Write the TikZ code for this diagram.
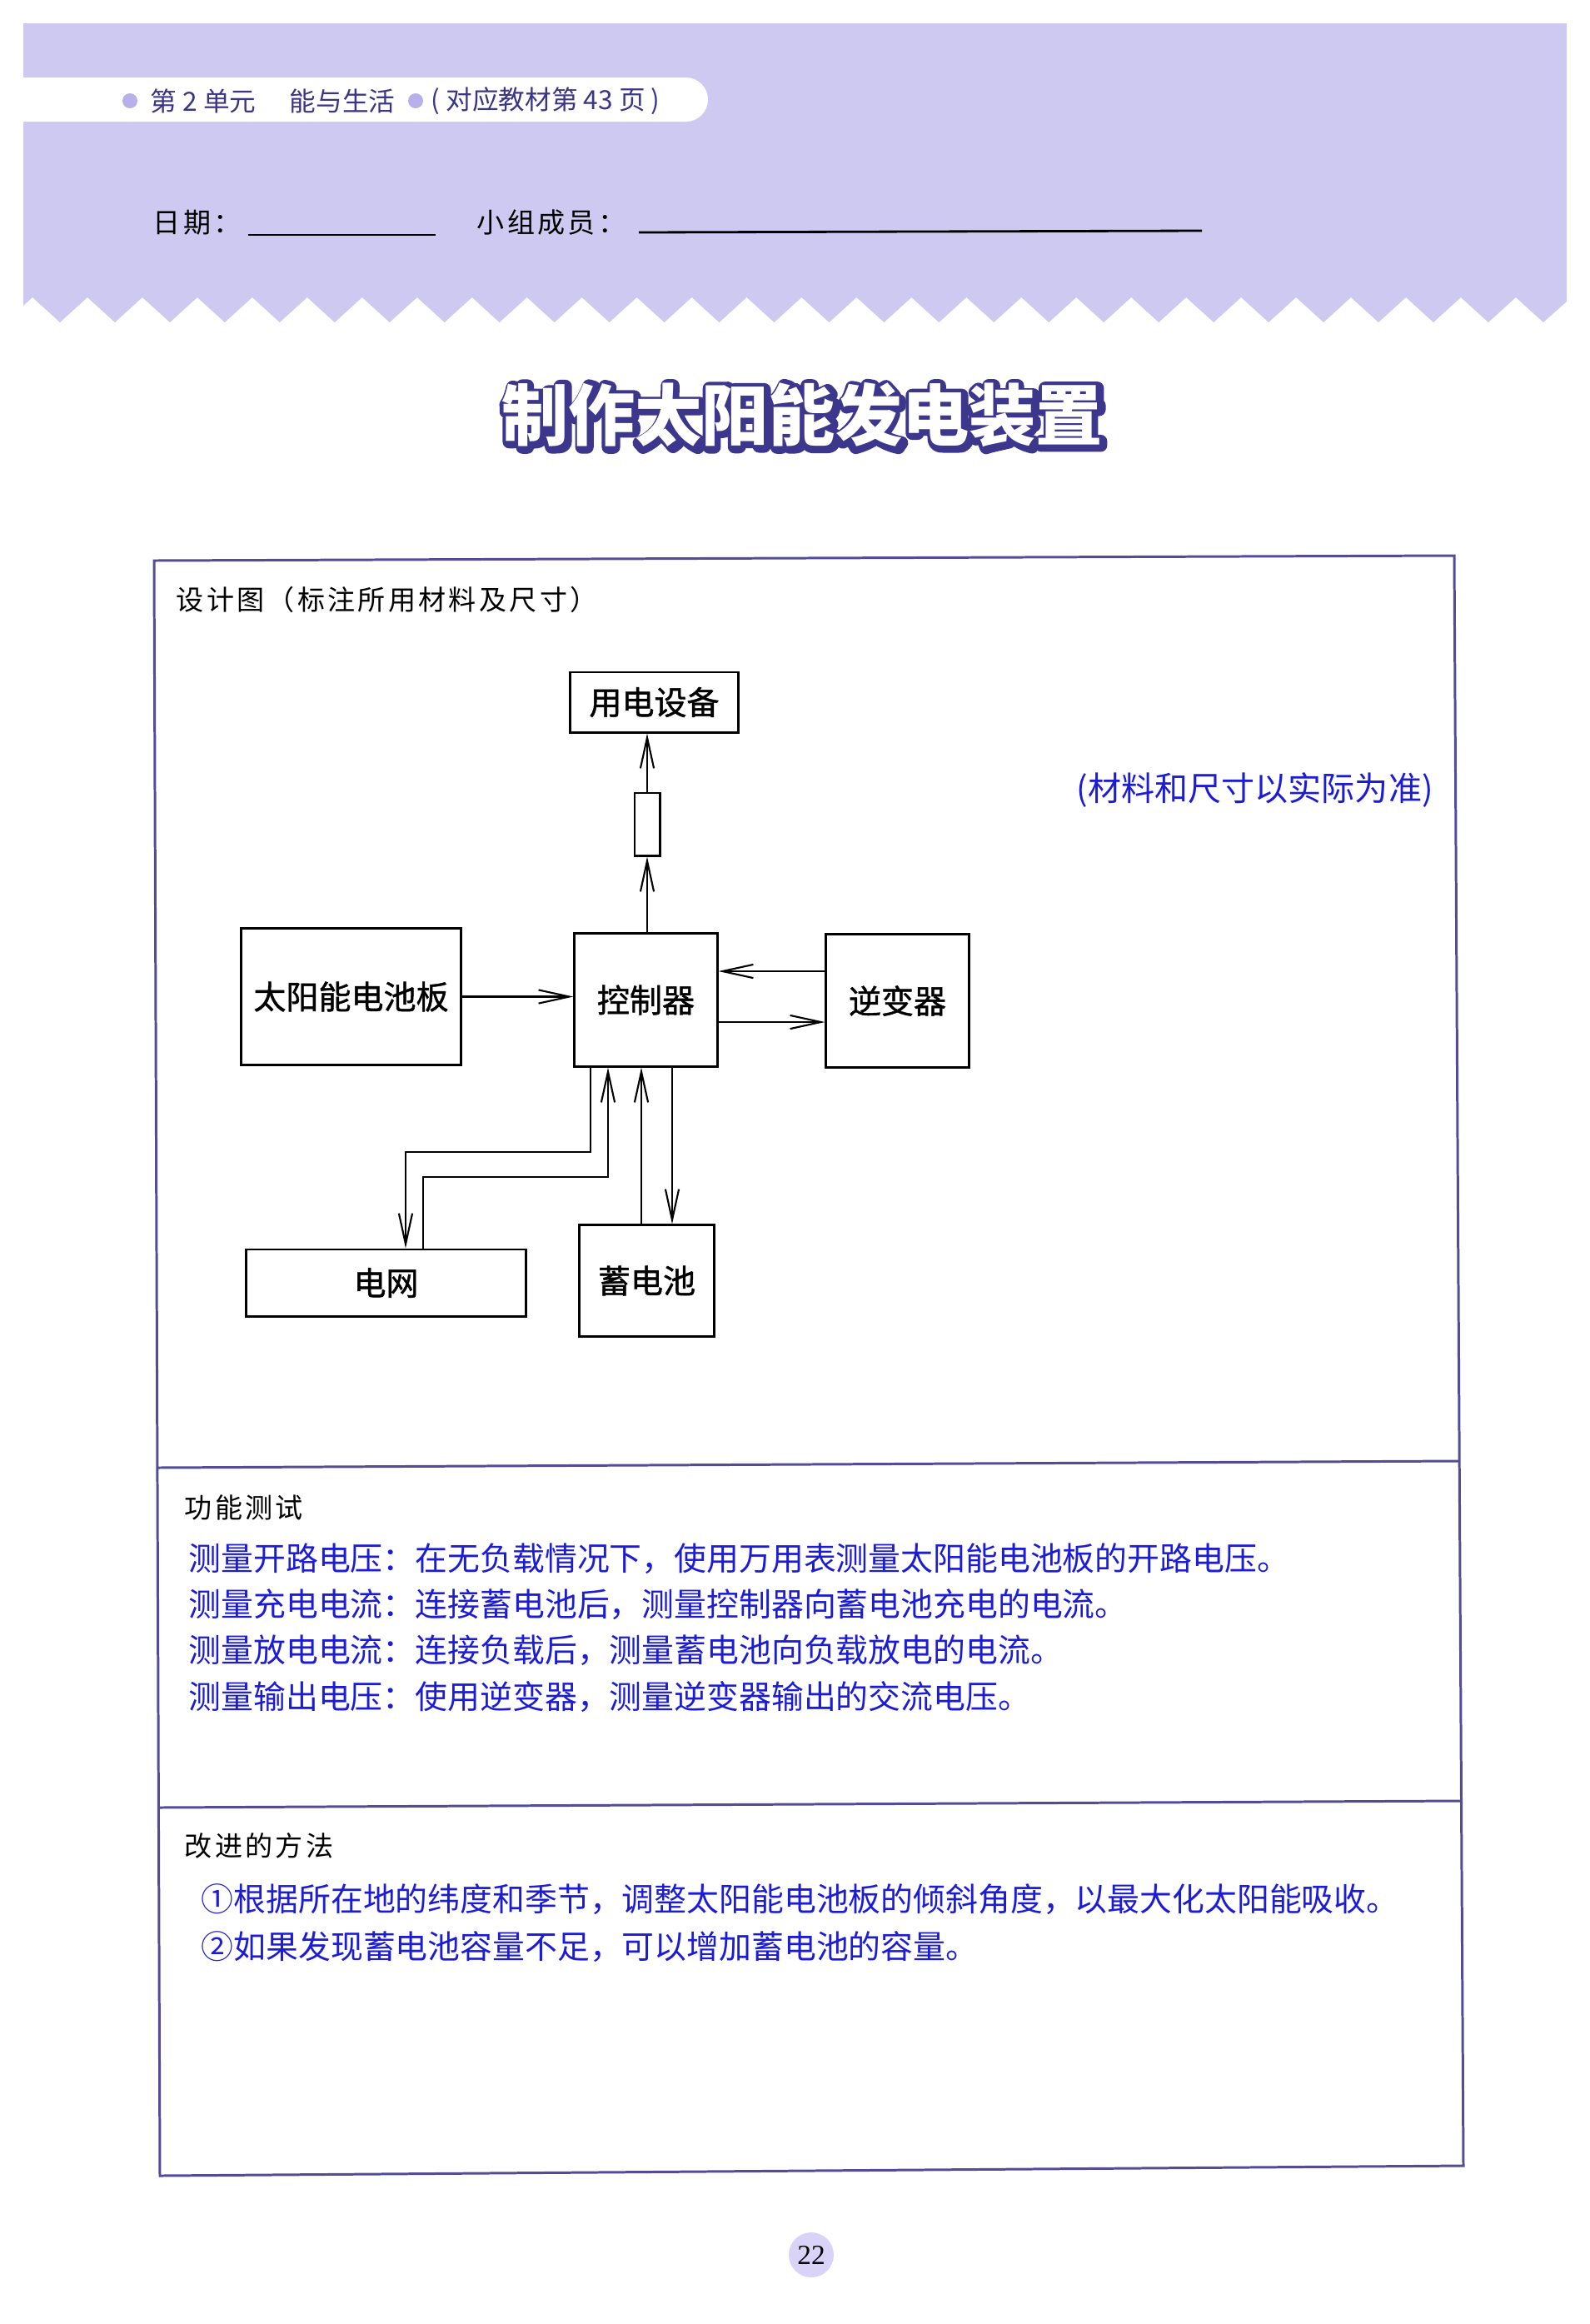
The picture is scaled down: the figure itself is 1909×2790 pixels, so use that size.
\documentclass[tikz,border=0pt]{standalone}
\usepackage{fontspec}
\setmainfont{Liberation Serif}
\newfontfamily\cjk{Noto Sans CJK SC}
\newfontfamily\cjkbox{Noto Sans CJK SC}[FakeBold=1.2]
\newfontfamily\cjkrim{Noto Sans CJK SC}[FakeBold=20]
\newfontfamily\cjkwide{Noto Sans CJK SC}[LetterSpace=10]
\usepackage{xcolor}
\usetikzlibrary{arrows.meta,positioning,calc}

\definecolor{bandc}{RGB}{206,201,241}
\definecolor{dotc}{RGB}{184,176,232}
\definecolor{hdtxt}{RGB}{58,53,133}
\definecolor{navy}{RGB}{60,55,140}
\definecolor{framec}{RGB}{85,76,150}
\definecolor{ansblue}{RGB}{28,28,215}
\definecolor{pagec}{RGB}{217,212,247}

\begin{document}
\begin{tikzpicture}[x=0.01cm, y=-0.01cm,
        txt/.style={inner sep=0, anchor=west, font=\cjk},
        hdr/.style={txt, text=hdtxt, font={\cjk\fontsize{9}{10}\selectfont}},
        lbl/.style={txt, font={\cjkwide\fontsize{9.4}{12}\selectfont}},
        ans/.style={txt, text=ansblue, font={\cjk\fontsize{11.05}{13}\selectfont}},
        blk/.style={draw, line width=0.85pt, inner sep=0,
                font={\cjkbox\fontsize{11.1}{13}\selectfont}},
        arr/.style={-{Straight Barb[length=10.5pt, width=4.6pt]}, line width=0.6pt},
        frame/.style={draw=framec, line width=0.85pt}
        ]
        \useasboundingbox (0,0) rectangle (1909,2790);

        % ---------------- Header band ----------------
        \fill[bandc] (28,28) -- (1881,28) -- (1881,362)
            \foreach \k in {27,...,0} { -- ({72+65.96*\k},387) -- ({39+65.96*\k},357) }
            -- (28,367) -- cycle;
        \begin{scope}
            \clip (28,0) rectangle (900,200);
            \fill[white, rounded corners=0.265cm] (0,93) rectangle (850,146);
        \end{scope}
        \fill[dotc] (156,121) circle[radius=0.09cm];
        \fill[dotc] (499,121) circle[radius=0.09cm];
        \node[hdr] (unit)  at (180,121) {第 2 单元};
        \node[hdr] (topic) at (347,121) {能与生活};
        \node[hdr] (page)  at (517,121) {( 对应教材第 43 页 )};

        \node[lbl] (date) at (183,267) {日期：};
        \draw[line width=0.8pt] (298,282) -- (523,282);
        \node[lbl] (team) at (572,267) {小组成员：};
        \draw[line width=0.8pt] (767,279) -- (1443,277);

        % ---------------- Title ----------------
        \node[inner sep=0, text=navy, line join=round,
              font={\cjkrim\fontsize{22.8}{26}\selectfont}] (titlerim) at (965,500) {制作太阳能发电装置};
        \node[inner sep=0, text=white,
              font={\cjk\bfseries\fontsize{22.8}{26}\selectfont}] (title) at (963,498) {制作太阳能发电装置};

        % ---------------- Frame ----------------
        \draw[frame] (185,673) -- (1746,667) -- (1757,2600) -- (192,2612) -- cycle;
        \draw[frame] (188,1762) -- (1751,1754);
        \draw[frame] (190,2170) -- (1754,2162);

        \node[lbl] (design) at (211,720) {设计图（标注所用材料及尺寸）};
        \node[txt, text=ansblue, font={\cjk\fontsize{11.4}{13}\selectfont}] (note) at (1292,948) {(材料和尺寸以实际为准)};

        % ---------------- Blocks ----------------
        \node[blk, minimum width=2.01cm, minimum height=0.72cm] (load)  at (785.5,843)    {用电设备};
        \node[blk, minimum width=0.30cm, minimum height=0.75cm] (fuse)  at (777,989.5)    {};
        \node[blk, minimum width=2.63cm, minimum height=1.63cm] (panel) at (421.5,1196.5) {太阳能电池板};
        \node[blk, minimum width=1.71cm, minimum height=1.59cm] (ctrl)  at (775.5,1200.5) {控制器};
        \node[blk, minimum width=1.71cm, minimum height=1.59cm] (inv)   at (1077.5,1201.5){逆变器};
        \node[blk, minimum width=3.35cm, minimum height=0.80cm] (grid)  at (463.5,1540)   {电网};
        \node[blk, minimum width=1.61cm, minimum height=1.33cm] (batt)  at (776.5,1537.5) {蓄电池};

        % ---------------- Arrows ----------------
        \draw[arr] (ctrl.north -| fuse) -- (fuse.south);
        \draw[arr] (fuse.north) -- (load.south -| fuse);
        \draw[arr] (panel.east) -- (panel.east -| ctrl.west);
        \draw[arr] (inv.west |- 0,1166) -- (ctrl.east |- 0,1166);
        \draw[arr] (ctrl.east |- 0,1227) -- (inv.west |- 0,1227);
        \draw[arr] (ctrl.south -| 709,0) |- (487,1383) -- (grid.north -| 487,0);
        \draw[arr] (grid.north -| 508,0) |- (730,1413) -- (ctrl.south -| 730,0);
        \draw[arr] (batt.north -| 770,0) -- (ctrl.south -| 770,0);
        \draw[arr] (ctrl.south -| 807,0) -- (batt.north -| 807,0);

        % ---------------- Function test ----------------
        \node[lbl] (testhd) at (221,1810) {功能测试};
        \node[ans] (test1) at (226,1871) {测量开路电压：在无负载情况下，使用万用表测量太阳能电池板的开路电压。};
        \node[ans] (test2) at (226,1926) {测量充电电流：连接蓄电池后，测量控制器向蓄电池充电的电流。};
        \node[ans] (test3) at (226,1981) {测量放电电流：连接负载后，测量蓄电池向负载放电的电流。};
        \node[ans] (test4) at (226,2037) {测量输出电压：使用逆变器，测量逆变器输出的交流电压。};

        % ---------------- Improvements ----------------
        \node[lbl] (imphd) at (221,2216) {改进的方法};
        \node[ans] (imp1) at (241,2280) {①根据所在地的纬度和季节，调整太阳能电池板的倾斜角度，以最大化太阳能吸收。};
        \node[ans] (imp2) at (241,2337) {②如果发现蓄电池容量不足，可以增加蓄电池的容量。};

        % ---------------- Page number ----------------
        \node[circle, fill=pagec, minimum size=0.54cm, inner sep=0, font=\fontsize{9.5}{11}\selectfont] (pgnum) at (974,2707) {22};
    \end{tikzpicture}
\end{document}
